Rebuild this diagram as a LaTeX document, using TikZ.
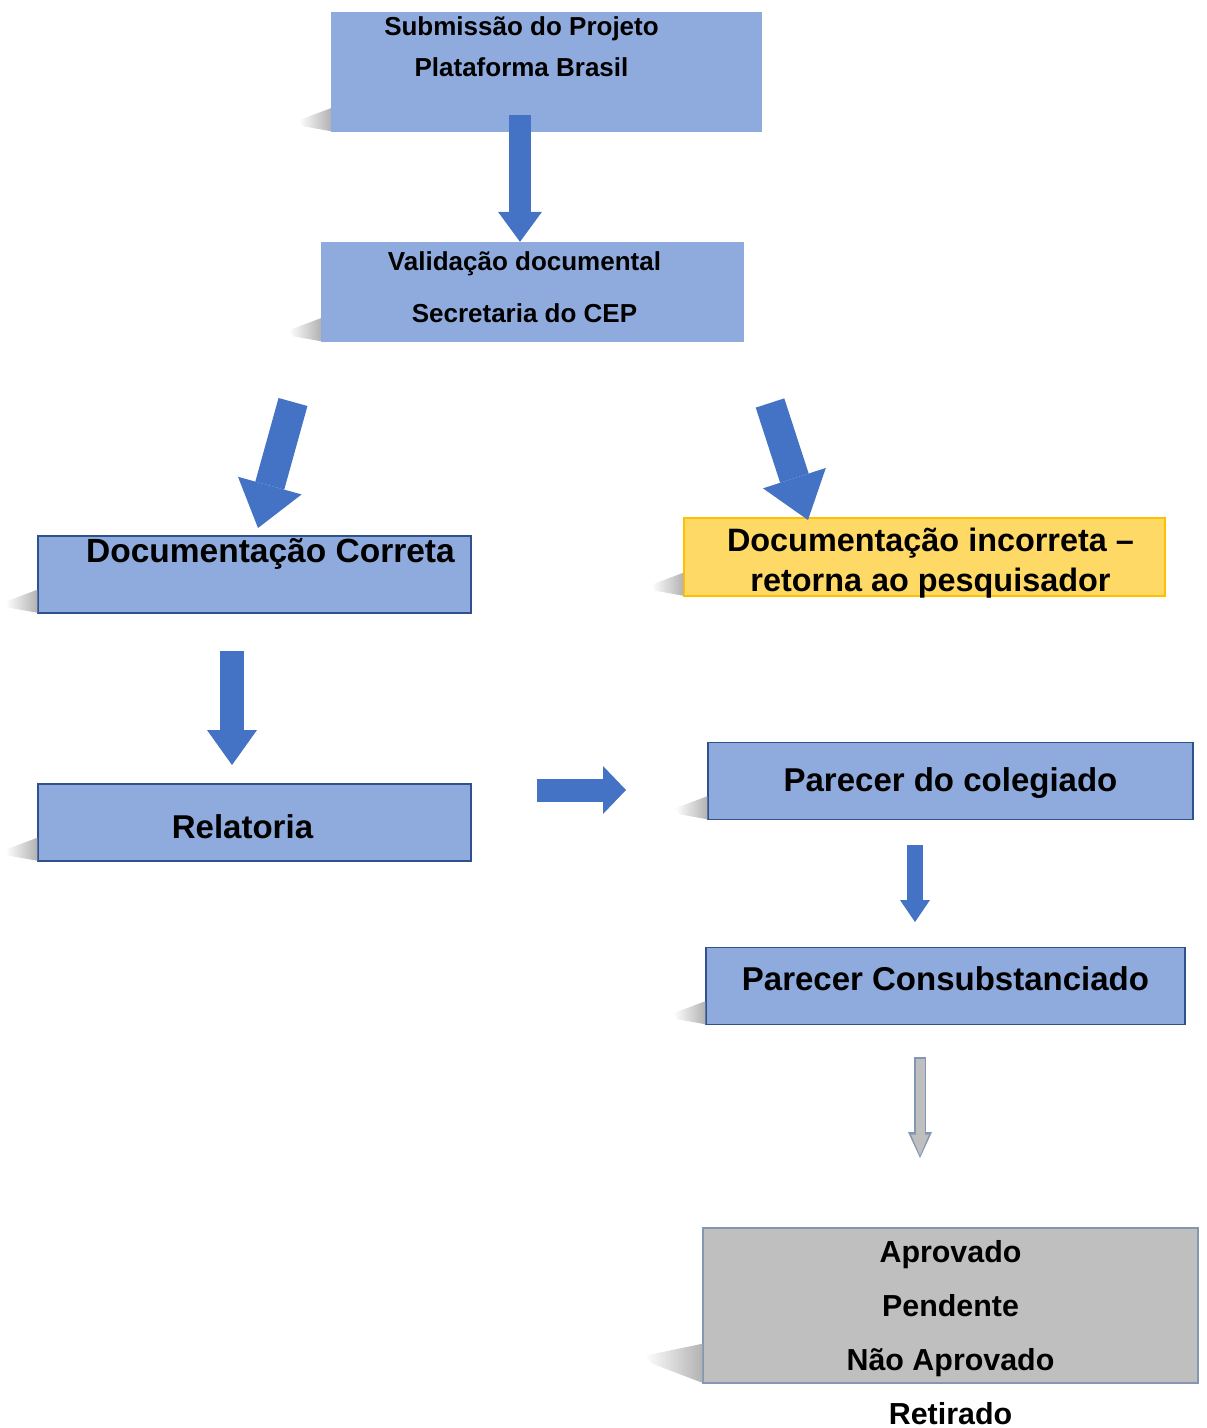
\documentclass[tikz,border=0pt]{standalone}
\usepackage{fontspec}
\setmainfont{Liberation Sans}
\usetikzlibrary{arrows.meta,calc,fadings}
\definecolor{Sky}{RGB}{143,170,220}
\definecolor{Deep}{RGB}{47,82,143}
\definecolor{Royal}{RGB}{68,114,196}
\definecolor{Sun}{RGB}{255,217,102}
\definecolor{Amber}{RGB}{255,192,0}
\definecolor{Ash}{RGB}{191,191,191}
\definecolor{Slate}{RGB}{132,151,176}

\begin{document}
\begin{tikzpicture}[x=1pt,y=-1pt,
 tb/.style={rectangle,fill=Sky,inner sep=0pt,align=center},
 bx/.style={rectangle,draw=Deep,line width=1.5pt,fill=Sky,inner sep=0pt,align=center},
 yb/.style={bx,draw=Amber,fill=Sun},
 gb/.style={bx,draw=Slate,fill=Ash},
 big/.style={font=\bfseries\fontsize{33}{40}\selectfont},
 sh/.style={fill=black!30,path fading=west},
 ar/.style n args={3}{draw=Royal,line width=#1,-{Triangle[width=#2,length=#3,line width=0pt]}}]
\useasboundingbox (0,0) rectangle (1207,1428);
% boxes
\node[tb,minimum width=431,minimum height=120,text height=61pt,text depth=53pt,
 font=\bfseries\fontsize{26}{41}\selectfont] (sub) at (546.5,72)
 {\hspace*{-50pt}Submissão do Projeto\\\hspace*{-50pt}Plataforma Brasil};
\node[tb,minimum width=423,minimum height=100,text height=72pt,text depth=12pt,
 font=\bfseries\fontsize{26}{52}\selectfont] (val) at (532.5,292)
 {\hspace*{-16pt}Validação documental\\\hspace*{-16pt}Secretaria do CEP};
\node[bx,minimum width=433,minimum height=77,text height=25pt,text depth=50pt,
 font=\bfseries\fontsize{33.5}{40}\selectfont] (cor) at (254.5,574.5) {\hspace*{32pt}Documentação Correta};
\node[yb,minimum width=481,minimum height=78,text height=70pt,text depth=2pt,
 font=\bfseries\fontsize{32.4}{40}\selectfont] (inc) at (924.5,557)
 {\hspace*{12pt}Documentação incorreta --\\\hspace*{12pt}retorna ao pesquisador};
\node[bx,big,minimum width=433,minimum height=77,text height=31pt,text depth=0pt] (rel) at (254.5,822.5)
 {\hspace*{-24pt}Relatoria};
\node[bx,big,minimum width=485,minimum height=77,text height=28pt,text depth=7pt] (col) at (950.5,781) {Parecer do colegiado};
\node[bx,big,minimum width=479,minimum height=77,text height=24pt,text depth=16pt] (con) at (945.5,986) {Parecer Consubstanciado};
\node[gb,minimum width=495,minimum height=155,text height=155pt,text depth=0pt,
 font=\bfseries\fontsize{30.4}{54}\selectfont] (res) at (950.5,1305.5)
 {\raisebox{-41pt}[0pt][0pt]{\begin{tabular}[b]{@{}c@{}}Aprovado\\Pendente\\Não Aprovado\\Retirado\end{tabular}}};
% shadows left of the boxes
\foreach \b in {sub,val,cor,inc,rel,col,con}
 \fill[sh] ($(\b.south west)+(0,-24)$) -- ($(\b.south west)+(-32,-12)$)
  -- ($(\b.south west)+(-28,-6)$) -- ($(\b.south west)+(0,-1)$) -- cycle;
\fill[sh] ($(res.south west)+(0,-40)$) -- ($(res.south west)+(-58,-28)$)
  -- ($(res.south west)+(-50,-20)$) -- ($(res.south west)+(0,-1)$) -- cycle;
% free ends
\coordinate (s1) at (520,115);
\coordinate (s2) at (293,402);
\coordinate (e2) at (258,528);
\coordinate (s3) at (770,403);
\coordinate (e3) at (808,520);
\coordinate (s4) at (232,651);
\coordinate (e4) at (232,765);
\coordinate (s5) at (537,790);
\coordinate (e5) at (626,790);
\coordinate (s6) at (915,845);
\coordinate (e6) at (915,922);
\coordinate (s7) at (920,1057);
\coordinate (e7) at (920,1158);
% arrows
\draw[ar={22pt}{44pt}{30pt}] (s1) -- (s1 |- val.north);
\draw[ar={30pt}{66pt}{44pt}] (s2) -- (e2);
\draw[ar={30pt}{66pt}{44pt}] (s3) -- (e3);
\draw[ar={24pt}{50pt}{35pt}] (s4) -- (e4);
\draw[ar={23pt}{48pt}{23pt}] (s5) -- (e5);
\draw[ar={16pt}{30pt}{22pt}] (s6) -- (e6);
\draw[ar={12pt}{24pt}{26pt},draw=Slate] (s7) -- (e7);
\draw[ar={9pt}{18pt}{21pt},draw=Ash,shorten <=1.5pt,shorten >=2.5pt] (s7) -- (e7);
\end{tikzpicture}
\end{document}
